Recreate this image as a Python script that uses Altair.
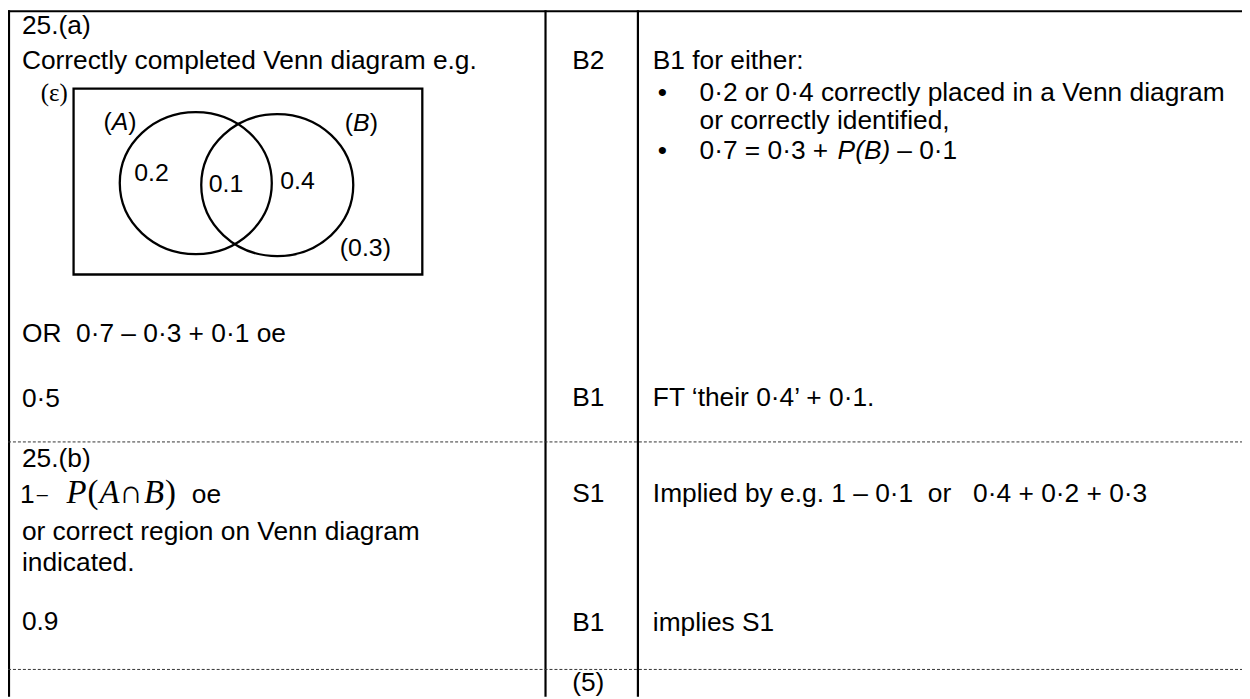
import altair as alt
import pandas as pd

SANS = "Liberation Sans"
SERIF = "Liberation Serif"
FS = 26.5
NB = "\u00a0"

# ---------------- content ----------------
left_texts = ["25.(a)", "Correctly completed Venn diagram e.g.",
              "OR" + NB + NB + "0·7 – 0·3 + 0·1 oe", "0·5", "25.(b)",
              "or correct region on Venn diagram", "indicated.", "0.9"]
left_y = [32, 67, 342, 407, 468, 541, 572, 632]

mark_texts = ["B2", "B1", "S1", "B1", "(5)"]
mark_y = [67, 406, 503, 633, 693]

right_texts = ["B1 for either:",
               "0·2 or 0·4 correctly placed in a Venn diagram",
               "or correctly identified,",
               "FT ‘their 0·4’ + 0·1.",
               "Implied by e.g. 1 – 0·1" + NB + NB + "or" + NB + NB + NB + "0·4 + 0·2 + 0·3",
               "implies S1"]
right_x = [657, 704, 704, 657, 657, 657]
right_y = [67, 99, 128, 406, 503, 633]

bullet_y = [99, 158]
bullet2_parts = ["0·7 = 0·3 +", "P(B)", "– 0·1"]
bullet2_x = [704, 843, 903]
bullet2_style = ["normal", "italic", "normal"]

venn_values = ["0.2", "0.1", "0.4", "(0.3)"]
venn_x = [135, 210, 282, 342]
venn_y = [180, 191, 188, 255]

set_names = ["A", "B"]
set_label_x = [104, 347]
set_label_y = [129, 130]

set_centers_x = [197, 279]
set_centers_y = [182, 184]

prob_parts = ["P", "(", "A", "∩", "B", ")"]
prob_x = [67, 88, 100, 120, 145, 166]
prob_style = ["italic", "normal", "italic", "normal", "italic", "normal"]

# ---------------- build text table ----------------
rows = []


def add(text, x, y, font="sans", style="normal", size=FS, align="left"):
    rows.append(dict(text=text, x=x, y=y, font=font, style=style, size=size, align=align))


for t, y in zip(left_texts, left_y):
    add(t, 22, y)
for t, y in zip(mark_texts, mark_y):
    add(t, 592, y, align="center")
for t, x, y in zip(right_texts, right_x, right_y):
    add(t, x, y)
for y in bullet_y:
    add("•", 662, y)
for t, x, s in zip(bullet2_parts, bullet2_x, bullet2_style):
    add(t, x, bullet_y[1], style=s)
for t, x, y in zip(venn_values, venn_x, venn_y):
    add(t, x, y, size=25)
for n, x, y in zip(set_names, set_label_x, set_label_y):
    add("(", x, y, size=25)
    add(n, x + 8.3, y, style="italic", size=25)
    add(")", x + 25, y, size=25)
add("(ε)", 41, 99, font="serif", size=25)
add("1", 20, 504)
add("–", 37, 502, size=20)
for t, x, s in zip(prob_parts, prob_x, prob_style):
    add(t, x, 504, font="serif", style=s, size=33)
add("oe", 193, 504)

tdf = pd.DataFrame(rows)

xs = alt.Scale(domain=[8, 1250], nice=False, zero=False)
ys = alt.Scale(domain=[8, 699], reverse=True, nice=False, zero=False)

layers = []
for (font, style, align), g in tdf.groupby(["font", "style", "align"]):
    layers.append(
        alt.Chart(g).mark_text(
            font=SANS if font == "sans" else SERIF,
            fontStyle=style, align=align, baseline="alphabetic", color="black"
        ).encode(
            x=alt.X("x:Q", scale=xs, axis=None),
            y=alt.Y("y:Q", scale=ys, axis=None),
            text="text:N",
            size=alt.Size("size:Q", scale=None, legend=None),
        )
    )

# ---------------- table lines ----------------
solid = pd.DataFrame({
    "x": [8, 9, 549, 642],
    "x2": [1250, 9, 549, 642],
    "y": [9, 8, 8, 8],
    "y2": [9, 699, 699, 699],
})
dashed = pd.DataFrame({
    "x": [8, 8], "x2": [1250, 1250], "y": [442.5, 671.5], "y2": [442.5, 671.5],
})
solid_layer = alt.Chart(solid).mark_rule(color="black", strokeWidth=2.2).encode(
    x=alt.X("x:Q", scale=xs, axis=None), x2="x2:Q",
    y=alt.Y("y:Q", scale=ys, axis=None), y2="y2:Q")
dash_layer = alt.Chart(dashed).mark_rule(color="#333333", strokeWidth=1, strokeDash=[3, 2]).encode(
    x=alt.X("x:Q", scale=xs, axis=None), x2="x2:Q",
    y=alt.Y("y:Q", scale=ys, axis=None), y2="y2:Q")

# ---------------- venn diagram ----------------
box = pd.DataFrame({"x": [74], "x2": [425], "y": [87], "y2": [274]})
box_layer = alt.Chart(box).mark_rect(fill="transparent", stroke="black", strokeWidth=2.3).encode(
    x=alt.X("x:Q", scale=xs, axis=None), x2="x2:Q",
    y=alt.Y("y:Q", scale=ys, axis=None), y2="y2:Q")

ELLIPSE = ("M 1 0 C 1 0.5159 0.5523 0.934 0 0.934 "
           "C -0.5523 0.934 -1 0.5159 -1 0 "
           "C -1 -0.5159 -0.5523 -0.934 0 -0.934 "
           "C 0.5523 -0.934 1 -0.5159 1 0 Z")
sets = pd.DataFrame({"name": set_names, "x": set_centers_x, "y": set_centers_y})
set_layer = alt.Chart(sets).mark_point(
    shape=ELLIPSE, size=153 * 153, filled=False, stroke="black", strokeWidth=2.3, opacity=1
).encode(
    x=alt.X("x:Q", scale=xs, axis=None),
    y=alt.Y("y:Q", scale=ys, axis=None),
)

chart = alt.layer(solid_layer, dash_layer, box_layer, set_layer, *layers).properties(
    width=1242, height=691, padding=0,
    autosize=alt.AutoSizeParams(type="none"),
    background="white",
).configure_view(strokeOpacity=0)

chart.save("out.html", embed_options={"renderer": "svg", "actions": False})
